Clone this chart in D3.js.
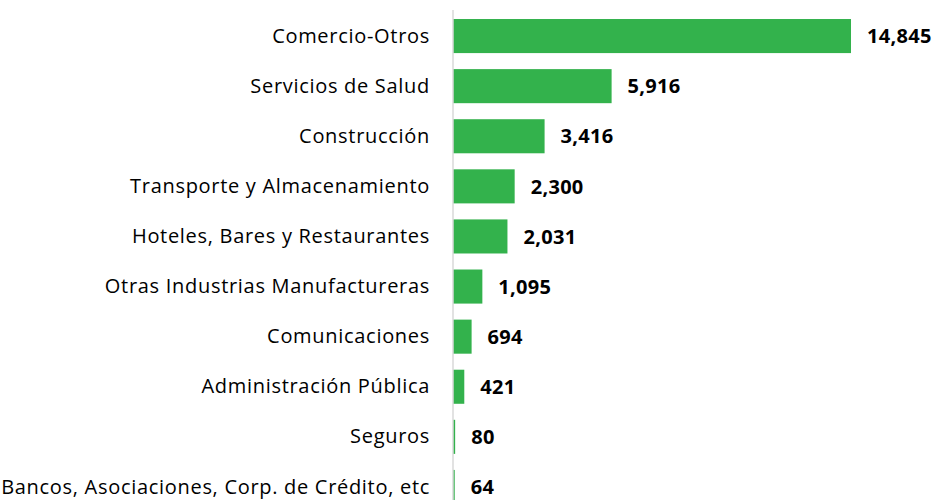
<!DOCTYPE html>
<html>
<head>
<meta charset="utf-8">
<script src="https://cdn.jsdelivr.net/npm/d3@7"></script>
<style>
  body { margin: 0; background: #fff; }
  svg text { font-family: "Open Sans", sans-serif; }
</style>
</head>
<body>
<svg id="chart" width="935" height="500"></svg>
<script>
// Data
const categories = [
  "Comercio-Otros",
  "Servicios de Salud",
  "Construcción",
  "Transporte y Almacenamiento",
  "Hoteles, Bares y Restaurantes",
  "Otras Industrias Manufactureras",
  "Comunicaciones",
  "Administración Pública",
  "Seguros",
  "Bancos, Asociaciones, Corp. de Crédito, etc"
];
const values = [14845, 5916, 3416, 2300, 2031, 1095, 694, 421, 80, 64];

const data = categories.map((c, i) => ({ name: c, value: values[i] }));

const svg = d3.select("#chart");
const axisX = 453;

const x = d3.scaleLinear()
  .domain([0, 14845])
  .range([axisX, 851]);

const y = d3.scaleBand()
  .domain(categories)
  .range([11, 512])
  .paddingInner(0.32)
  .paddingOuter(0.16);

// bars
svg.selectAll(".bar")
  .data(data)
  .join("rect")
  .attr("class", "bar")
  .attr("x", x(0))
  .attr("y", d => y(d.name))
  .attr("width", d => x(d.value) - x(0))
  .attr("height", y.bandwidth())
  .attr("fill", "#33b24c");

// axis line
svg.append("line")
  .attr("x1", axisX).attr("x2", axisX)
  .attr("y1", 10).attr("y2", 500)
  .attr("stroke", "#d9d9d9")
  .attr("stroke-width", 1.5);

// category labels
svg.selectAll(".cat")
  .data(data)
  .join("text")
  .attr("class", "cat")
  .attr("x", 430)
  .attr("y", d => y(d.name) + y.bandwidth() / 2)
  .attr("dy", "0.33em")
  .attr("text-anchor", "end")
  .attr("font-size", 20)
  .attr("letter-spacing", 0.7)
  .attr("fill", "#000")
  .text(d => d.name);

// value labels
svg.selectAll(".val")
  .data(data)
  .join("text")
  .attr("class", "val")
  .attr("x", d => x(d.value) + 16)
  .attr("y", d => y(d.name) + y.bandwidth() / 2)
  .attr("dy", "0.36em")
  .attr("font-size", 20)
  .attr("letter-spacing", 0.3)
  .attr("font-weight", "bold")
  .attr("fill", "#000")
  .text(d => d3.format(",")(d.value));
</script>
</body>
</html>
